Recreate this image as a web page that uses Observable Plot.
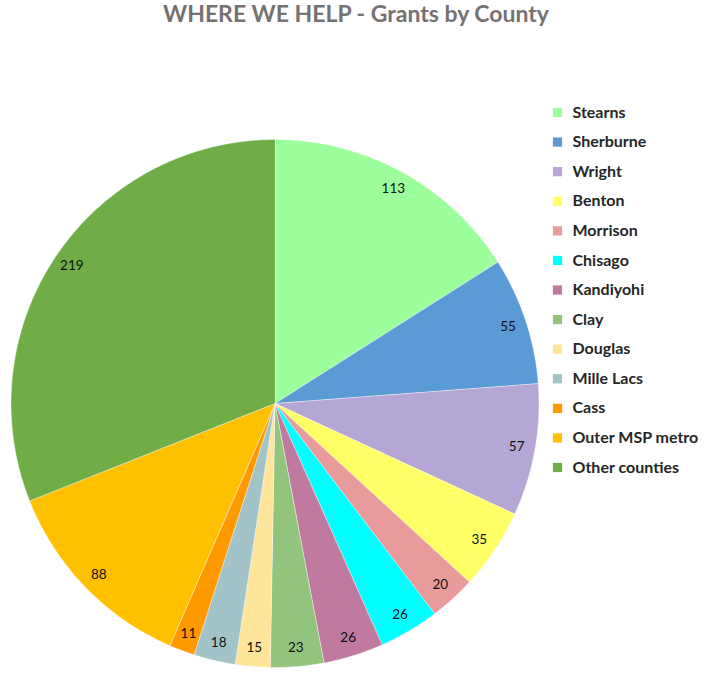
<!DOCTYPE html>
<html>
<head>
<meta charset="utf-8">
<script src="https://cdn.jsdelivr.net/npm/d3@7"></script>
<script src="https://cdn.jsdelivr.net/npm/@observablehq/plot@0.6"></script>
<style>
  body { margin: 0; background: #fff; font-family: Lato, "Open Sans", sans-serif; }
  #wrap { position: relative; width: 712px; height: 685px; }
  #title { position: absolute; left: 0; top: 0; width: 712px; text-align: center;
           font: bold 23px Lato, "Open Sans", sans-serif; color: #767171; line-height: 26px; }
  #pie { position: absolute; left: 0; top: 0; }
  #legend { position: absolute; left: 545px; top: 97px; width: 165px; }
</style>
</head>
<body>
<div id="wrap">
  <div id="pie"></div>
  <div id="legend"></div>
  <div id="title">WHERE WE HELP - Grants by County</div>
</div>
<script>
const counties = ["Stearns","Sherburne","Wright","Benton","Morrison","Chisago","Kandiyohi","Clay","Douglas","Mille Lacs","Cass","Outer MSP metro","Other counties"];
const grants = [113, 55, 57, 35, 20, 26, 26, 23, 15, 18, 11, 88, 219];
const colors = ["#9CFF9C","#5B9BD5","#B4A7D6","#FFFF66","#E99A9A","#00FFFF","#C0799F","#93C47D","#FFE599","#A2C4C9","#FF9900","#FFC000","#70AD47"];

const table = counties.map((c, i) => ({county: c, value: grants[i]}));
const arcs = d3.pie().sort(null).value(d => d.value)(table);

// polygon vertices for each slice, in unit-circle coordinates (angle 0 = top, clockwise)
const pts = [];
arcs.forEach(a => {
  const c = a.data.county;
  pts.push({county: c, x: 0, y: 0});
  const n = Math.max(2, Math.ceil((a.endAngle - a.startAngle) / 0.01));
  for (let k = 0; k <= n; k++) {
    const t = a.startAngle + (a.endAngle - a.startAngle) * k / n;
    pts.push({county: c, x: Math.sin(t), y: Math.cos(t)});
  }
});
const labels = arcs.map(a => {
  const t = (a.startAngle + a.endAngle) / 2;
  return {county: a.data.county, value: a.data.value, x: 0.93 * Math.sin(t), y: 0.93 * Math.cos(t)};
});

const color = {domain: counties, range: colors};

const pie = Plot.plot({
  width: 712, height: 685,
  x: {domain: [-1, 1], range: [10.5, 538.5], axis: null},
  y: {domain: [-1, 1], range: [667, 139], axis: null},
  color,
  style: {fontFamily: "Lato, 'Open Sans', sans-serif"},
  marks: [
    Plot.line(pts, {x: "x", y: "y", z: "county", fill: "county", stroke: "white", strokeWidth: 0.6, strokeOpacity: 0.7, curve: "linear-closed"}),
    Plot.text(labels, {x: "x", y: "y", text: d => String(d.value), fontSize: 13.5, fill: "#111"})
  ]
});
document.getElementById("pie").appendChild(pie);

const legend = Plot.plot({
  width: 165, height: 385,
  margin: 0,
  x: {domain: [0, 165], range: [0, 165], axis: null},
  y: {domain: counties, range: [15, 370], padding: 0, round: false, axis: null},
  color,
  style: {fontFamily: "Lato, 'Open Sans', sans-serif", overflow: "visible"},
  marks: [
    Plot.dot(counties, {x: () => 12, y: d => d, fill: d => d, symbol: "square", r: 5.2}),
    Plot.text(counties, {x: () => 27, y: d => d, text: d => d, textAnchor: "start", fontSize: 16, fontWeight: "bold", fill: "#262626"})
  ]
});
document.getElementById("legend").appendChild(legend);
</script>
</body>
</html>
